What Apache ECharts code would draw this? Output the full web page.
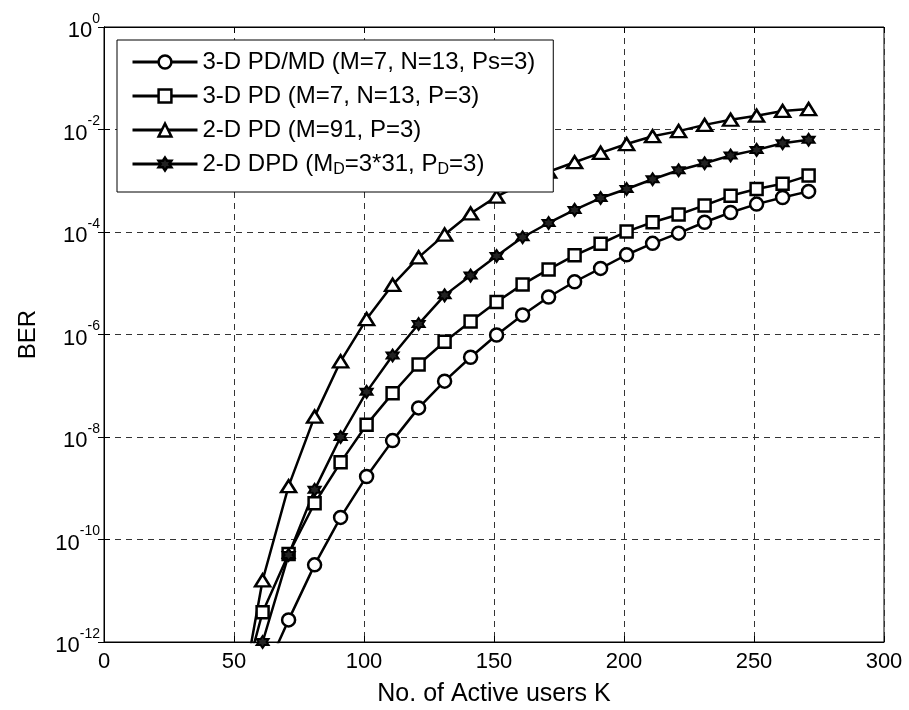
<!DOCTYPE html>
<html>
<head>
<meta charset="utf-8">
<script src="https://cdn.jsdelivr.net/npm/echarts@6/dist/echarts.min.js"></script>
<style>
html, body { margin: 0; padding: 0; background: #fff; }
#chart { width: 909px; height: 710px; }
</style>
</head>
<body>
<div id="chart"></div>
<script>
// number of active users K
var users = [51, 61, 71, 81, 91, 101, 111, 121, 131, 141, 151, 161, 171, 181, 191, 201, 211, 221, 231, 241, 251, 261, 271];

// BER
var ber_3d_pdmd = [1e-14, 2.0e-13, 2.7e-12, 3.2e-11, 2.7e-10, 1.7e-9, 8.5e-9, 3.7e-8, 1.23e-7, 3.6e-7, 9.8e-7, 2.4e-6, 5.4e-6,
    1.07e-5, 1.95e-5, 3.6e-5, 6.0e-5, 9.5e-5, 1.55e-4, 2.4e-4, 3.5e-4, 4.7e-4, 6.2e-4];
var ber_3d_pd = [5.0e-14, 3.8e-12, 5.2e-11, 5.1e-10, 3.2e-9, 1.74e-8, 7.1e-8, 2.6e-7, 7.2e-7, 1.8e-6, 4.3e-6, 9.5e-6, 1.86e-5,
    3.5e-5, 5.9e-5, 1.02e-4, 1.55e-4, 2.2e-4, 3.3e-4, 5.1e-4, 6.9e-4, 8.7e-4, 1.26e-3];
var ber_2d_pd = [2.5e-14, 1.6e-11, 1.1e-9, 2.5e-8, 3.0e-7, 2.0e-6, 9.3e-6, 3.2e-5, 8.9e-5, 2.3e-4, 4.9e-4, 8.9e-4, 1.5e-3,
    2.3e-3, 3.5e-3, 5.2e-3, 7.4e-3, 9.3e-3, 1.23e-2, 1.55e-2, 1.86e-2, 2.3e-2, 2.5e-2];
var ber_2d_dpd = [6.3e-15, 1.0e-12, 5.0e-11, 9.3e-10, 1.0e-8, 7.6e-8, 3.9e-7, 1.6e-6, 5.8e-6, 1.41e-5, 3.4e-5, 7.9e-5, 1.5e-4,
    2.7e-4, 4.6e-4, 6.9e-4, 1.07e-3, 1.6e-3, 2.2e-3, 3.1e-3, 4.0e-3, 5.4e-3, 6.3e-3];

var names = [
    '3-D PD/MD (M=7, N=13, Ps=3)',
    '3-D PD (M=7, N=13, P=3)',
    '2-D PD (M=91, P=3)',
    '2-D DPD (M_D=3*31, P_D=3)'
];

var font = 'Liberation Sans, Arial, sans-serif';
var hexagram = 'path://M0,-10L2.89,-5L8.66,-5L5.77,0L8.66,5L2.89,5L0,10L-2.89,5L-8.66,5L-5.77,0L-8.66,-5L-2.89,-5Z';

function pairs(ys) {
    return users.map(function (x, i) { return [x, ys[i]] })
}

function make_series(name, ys, symbol, size, fill, border) {
    return {
        name: name,
        type: 'line',
        data: pairs(ys),
        symbol: symbol,
        symbolSize: size,
        showAllSymbol: true,
        clip: true,
        lineStyle: { color: '#000', width: 2.5 },
        itemStyle: { color: fill, borderColor: '#000', borderWidth: border },
        emphasis: { disabled: true }
    }
}

var chart = echarts.init(document.getElementById('chart'));

chart.setOption({
    animation: false,
    backgroundColor: '#fff',
    textStyle: { fontFamily: font },
    grid: {
        left: 104, right: 25, top: 27, bottom: 68,
        show: true, borderColor: '#000', borderWidth: 1,
        outerBoundsMode: 'none'
    },
    legend: {
        orient: 'vertical',
        left: 117, top: 40,
        padding: [8, 18, 14, 14],
        itemGap: 6,
        itemWidth: 65,
        itemHeight: 16,
        backgroundColor: '#fff',
        borderColor: '#000',
        borderWidth: 1,
        borderRadius: 0,
        selectedMode: false,
        data: names,
        lineStyle: { width: 3, color: '#000' },
        itemStyle: { borderWidth: 2.5, borderColor: '#000' },
        formatter: function (name) {
            return name.replace(/_D/g, '{sub|D}')
        },
        textStyle: {
            fontFamily: font, fontSize: 24, color: '#000', lineHeight: 28,
            rich: { sub: { fontFamily: font, fontSize: 16, color: '#000', lineHeight: 28, verticalAlign: 'bottom' } }
        }
    },
    xAxis: [
        {
            type: 'value', min: 0, max: 300, interval: 50,
            name: 'No. of Active users K', nameLocation: 'middle', nameGap: 40,
            nameTextStyle: { fontSize: 25, color: '#000', fontFamily: font },
            axisLine: { lineStyle: { color: '#000' } },
            axisTick: { inside: true, length: 6, lineStyle: { color: '#000' } },
            axisLabel: { fontSize: 22, color: '#000', margin: 9, fontFamily: font },
            splitLine: { show: true, lineStyle: { color: '#333', type: [6, 5], width: 1 } }
        },
        {
            type: 'value', position: 'top', min: 0, max: 300, interval: 50,
            axisLine: { lineStyle: { color: '#000' } },
            axisTick: { inside: true, length: 6, lineStyle: { color: '#000' } },
            axisLabel: { show: false },
            splitLine: { show: false }
        }
    ],
    yAxis: [
        {
            type: 'log', logBase: 10, min: 1e-12, max: 1, interval: 2,
            name: 'BER', nameLocation: 'middle', nameGap: 64, nameRotate: 90,
            nameTextStyle: { fontSize: 24, color: '#000', fontFamily: font },
            axisLine: { lineStyle: { color: '#000' } },
            axisTick: { inside: true, length: 6, lineStyle: { color: '#000' } },
            minorTick: { show: false },
            axisLabel: {
                margin: 4,
                formatter: function (v) {
                    var e = Math.round(Math.log10(v));
                    return '{b|10}{e|' + e + '}'
                },
                rich: {
                    b: { fontSize: 22, color: '#000', fontFamily: font, lineHeight: 30, verticalAlign: 'bottom' },
                    e: { fontSize: 14, color: '#000', fontFamily: font, lineHeight: 30, verticalAlign: 'top' }
                }
            },
            splitLine: { show: true, lineStyle: { color: '#333', type: [6, 5], width: 1 } }
        },
        {
            type: 'log', logBase: 10, min: 1e-12, max: 1, interval: 2, position: 'right',
            axisLine: { lineStyle: { color: '#000' } },
            axisTick: { inside: true, length: 6, lineStyle: { color: '#000' } },
            axisLabel: { show: false },
            splitLine: { show: false }
        }
    ],
    series: [
        make_series(names[0], ber_3d_pdmd, 'circle', 13, '#fff', 2.5),
        make_series(names[1], ber_3d_pd, 'rect', 12, '#fff', 2.5),
        make_series(names[2], ber_2d_pd, 'triangle', [15, 12], '#fff', 2.5),
        make_series(names[3], ber_2d_dpd, hexagram, 12, '#222', 2)
    ]
});
</script>
</body>
</html>
